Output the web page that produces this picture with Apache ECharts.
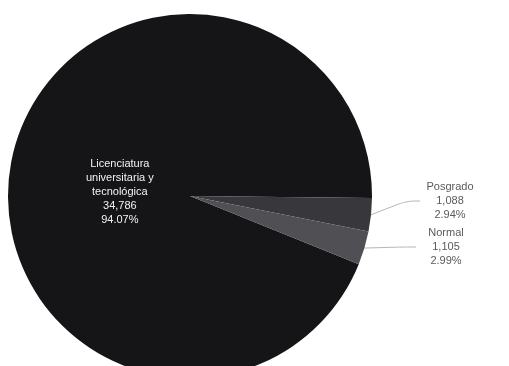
<!DOCTYPE html>
<html>
<head>
<meta charset="utf-8">
<script src="https://cdn.jsdelivr.net/npm/echarts@6/dist/echarts.min.js"></script>
<style>
html, body { margin: 0; padding: 0; background: #ffffff; }
#pieChart { width: 509px; height: 366px; }
</style>
</head>
<body>
<div id="pieChart"></div>
<script>
var categories = ['Licenciatura\nuniversitaria y\ntecnológica', 'Posgrado', 'Normal'];
var values = [34786, 1088, 1105];
var colors = ['#151518', '#38383c', '#505054'];

var myChart = echarts.init(document.getElementById('pieChart'));

function fmt(n){
	return n.toString().replace(/\B(?=(\d{3})+(?!\d))/g, ',');
}

var pieData = [];
for(var i = 0; i < categories.length; i++){
	var item = { name: categories[i], value: values[i], itemStyle: { color: colors[i] } };
	if(i == 0){
		item.label = { position: 'inside', color: '#f2f2f2', offset: [22, 14] };
		item.labelLine = { show: false };
	}
	pieData.push(item);
}

// where the two small labels sit, like in the scan
var outsidePos = { 1: [450, 201], 2: [446, 247] };

var option = {
	animation: false,
	series: [{
		type: 'pie',
		center: [190, 196],
		radius: 182,
		startAngle: 338,
		clockwise: true,
		data: pieData,
		itemStyle: { borderWidth: 0 },
		label: {
			fontFamily: 'Liberation Sans',
			fontSize: 11,
			lineHeight: 14,
			color: '#5a5a5a',
			formatter: function(p){
				return '{t|' + p.name + '\n' + fmt(p.value) + '\n' + p.percent.toFixed(2) + '%}';
			},
			rich: { t: { align: 'center', width: 60 } }
		},
		labelLine: {
			length: 22,
			length2: 14,
			smooth: 0.4,
			lineStyle: { color: '#b4b4b4', width: 1 }
		},
		labelLayout: function(params){
			var p = outsidePos[params.dataIndex];
			if(!p){
				return {};
			}
			return { x: p[0], y: p[1], align: 'center', verticalAlign: 'middle' };
		}
	}]
};
myChart.setOption(option);
</script>
</body>
</html>
